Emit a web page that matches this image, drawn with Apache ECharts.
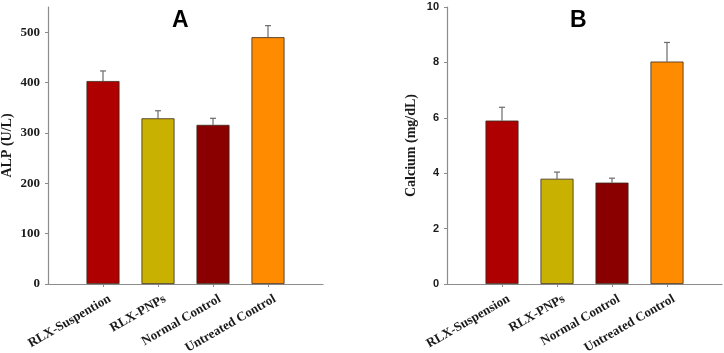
<!DOCTYPE html>
<html>
<head>
<meta charset="utf-8">
<script src="https://cdn.jsdelivr.net/npm/echarts@6/dist/echarts.min.js"></script>
<style>
  html, body { margin: 0; padding: 0; background: #fff; }
  #main { width: 724px; height: 353px; }
</style>
</head>
<body>
<div id="main"></div>
<script>
// data
var categoriesA = ['RLX-Suspention', 'RLX-PNPs', 'Normal Control', 'Untreated Control'];
var categoriesB = ['RLX-Suspension', 'RLX-PNPs', 'Normal Control', 'Untreated Control'];
var alpValues = [403, 329, 316, 490];
var alpErrors = [20, 15, 13, 23];
var calciumValues = [5.9, 3.8, 3.66, 8.03];
var calciumErrors = [0.48, 0.24, 0.16, 0.69];
var barColors = ['#AE0000', '#C8B100', '#8A0000', '#FF8C00'];
var alpTicks = [0, 100, 200, 300, 400, 500];
var calciumTicks = [0, 2, 4, 6, 8, 10];

var chart = echarts.init(document.getElementById('main'));

// pad categories so that bars sit one slot in from each end of the axis
function pad(arr, fill) {
    return [fill].concat(arr, [fill]);
}
function inner(idx) {
    return idx > 0 && idx < 5;
}

function barData(values) {
    return pad(values.map(function (v, i) {
        return { value: v, itemStyle: { color: barColors[i] } };
    }), '-');
}
function errData(values, errs) {
    return values.map(function (v, i) { return [i + 1, v, v + errs[i]]; });
}

function renderErr(params, api) {
    var base = api.coord([api.value(0), api.value(1)]);
    var top = api.coord([api.value(0), api.value(2)]);
    var hw = 3;
    var style = { stroke: '#6b6b6b', lineWidth: 1.2 };
    return {
        type: 'group',
        children: [
            { type: 'line', shape: { x1: base[0], y1: base[1], x2: top[0], y2: top[1] }, style: style },
            { type: 'line', shape: { x1: top[0] - hw, y1: top[1], x2: top[0] + hw, y2: top[1] }, style: style }
        ]
    };
}

var axisColor = '#8c8c8c';
var serif = '"Liberation Serif", "DejaVu Serif", serif';
var sans = '"Liberation Sans", Arial, sans-serif';

function xAxis(gridIndex, cats) {
    return {
        type: 'category',
        gridIndex: gridIndex,
        data: pad(cats, ''),
        boundaryGap: false,
        axisLine: { lineStyle: { color: axisColor, width: 1.2 } },
        axisTick: { interval: inner, length: 3, lineStyle: { color: axisColor } },
        axisLabel: {
            interval: inner,
            rotate: 30,
            margin: 18,
            padding: [0, -8, 0, 0],
            color: '#1a1a1a',
            fontFamily: serif,
            fontWeight: 'bold',
            fontSize: 13
        },
        splitLine: { show: false }
    };
}

var option = {
    animation: false,
    title: [
        { text: 'A', left: 167, top: 4, textStyle: { fontFamily: sans, fontWeight: 'bold', fontSize: 23, color: '#000' } },
        { text: 'B', left: 565, top: 4, textStyle: { fontFamily: sans, fontWeight: 'bold', fontSize: 23, color: '#000' } }
    ],
    grid: [
        { left: 48, top: 7, width: 275, height: 277, outerBoundsMode: 'none' },
        { left: 447, top: 7, width: 275, height: 277, outerBoundsMode: 'none' }
    ],
    xAxis: [xAxis(0, categoriesA), xAxis(1, categoriesB)],
    yAxis: [
        {
            type: 'value',
            gridIndex: 0,
            min: 0,
            max: 550,
            interval: 100,
            name: 'ALP (U/L)',
            nameLocation: 'middle',
            nameGap: 34,
            nameTextStyle: { fontFamily: serif, fontWeight: 'bold', fontSize: 14, color: '#1a1a1a' },
            axisLine: { show: true, lineStyle: { color: axisColor, width: 1.2 } },
            axisTick: { show: true, length: 3, customValues: alpTicks, lineStyle: { color: axisColor } },
            axisLabel: { customValues: alpTicks, margin: 8, color: '#1a1a1a', fontFamily: serif, fontWeight: 'bold', fontSize: 13 },
            splitLine: { show: false }
        },
        {
            type: 'value',
            gridIndex: 1,
            min: 0,
            max: 10,
            interval: 2,
            name: 'Calcium (mg/dL)',
            nameLocation: 'middle',
            nameGap: 29,
            nameTextStyle: { fontFamily: serif, fontWeight: 'bold', fontSize: 14, color: '#1a1a1a' },
            axisLine: { show: true, lineStyle: { color: axisColor, width: 1.2 } },
            axisTick: { show: true, length: 3, customValues: calciumTicks, lineStyle: { color: axisColor } },
            axisLabel: { customValues: calciumTicks, margin: 8, color: '#1a1a1a', fontFamily: sans, fontWeight: 'bold', fontSize: 11 },
            splitLine: { show: false }
        }
    ],
    series: [
        {
            type: 'bar',
            xAxisIndex: 0,
            yAxisIndex: 0,
            barWidth: 33,
            itemStyle: { borderColor: '#3a2a1a', borderWidth: 0.8 },
            data: barData(alpValues)
        },
        {
            type: 'custom',
            xAxisIndex: 0,
            yAxisIndex: 0,
            renderItem: renderErr,
            data: errData(alpValues, alpErrors),
            z: 1
        },
        {
            type: 'bar',
            xAxisIndex: 1,
            yAxisIndex: 1,
            barWidth: 33,
            itemStyle: { borderColor: '#3a2a1a', borderWidth: 0.8 },
            data: barData(calciumValues)
        },
        {
            type: 'custom',
            xAxisIndex: 1,
            yAxisIndex: 1,
            renderItem: renderErr,
            data: errData(calciumValues, calciumErrors),
            z: 1
        }
    ]
};
chart.setOption(option);
</script>
</body>
</html>
